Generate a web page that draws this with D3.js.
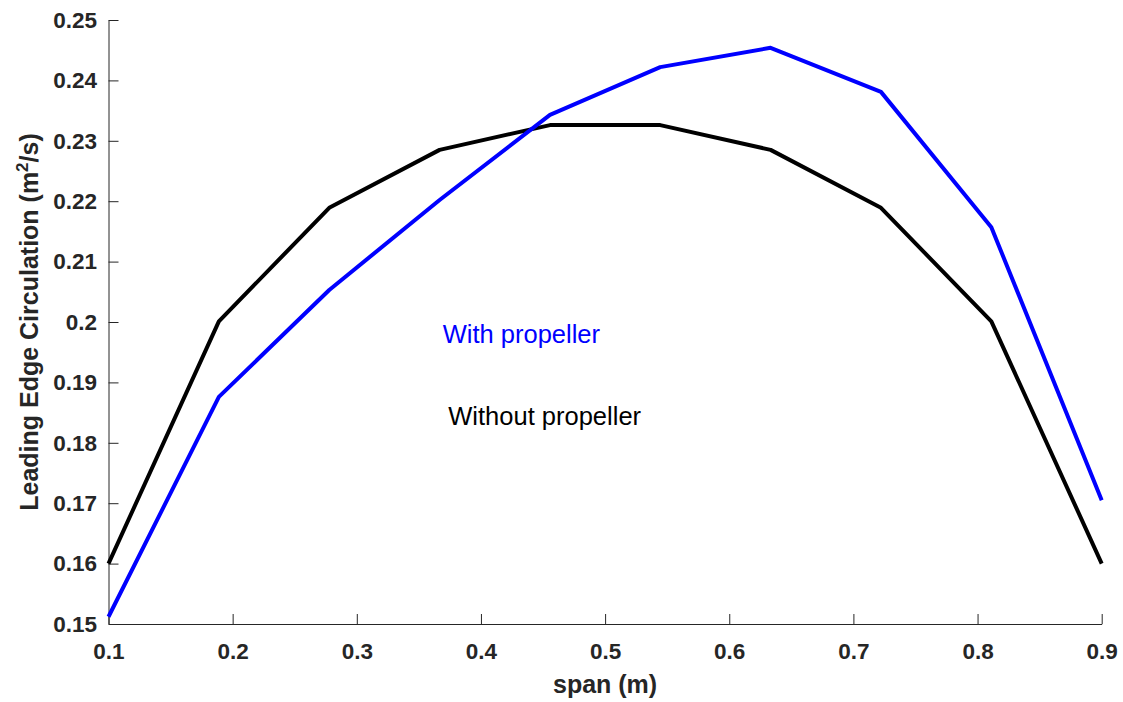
<!DOCTYPE html>
<html>
<head>
<meta charset="utf-8">
<script src="https://cdn.jsdelivr.net/npm/d3@7.9.0/dist/d3.min.js"></script>
<style>
  body { margin: 0; background: #fff; }
  svg { font-family: "Liberation Sans", Arial, sans-serif; }
</style>
</head>
<body>
<div id="vis"></div>
<script>
// span stations (m)
const span = [0.1, 0.1889, 0.2778, 0.3667, 0.4556, 0.5444, 0.6333, 0.7222, 0.8111, 0.9];
// leading edge circulation (m^2/s)
const withProp    = [0.1512, 0.1876, 0.2053, 0.2202, 0.2343, 0.2422, 0.2454, 0.2381, 0.2157, 0.1705];
const withoutProp = [0.1600, 0.2001, 0.2189, 0.2285, 0.2326, 0.2326, 0.2285, 0.2189, 0.2001, 0.1600];
const xTicks = [0.1, 0.2, 0.3, 0.4, 0.5, 0.6, 0.7, 0.8, 0.9];
const yTicks = [0.15, 0.16, 0.17, 0.18, 0.19, 0.2, 0.21, 0.22, 0.23, 0.24, 0.25];

const W = 1123, H = 702;
const m = {left: 108.5, right: W - 1101.7, top: 20, bottom: H - 624};

const svg = d3.select('#vis').append('svg')
    .attr('width', W).attr('height', H);

const x = d3.scaleLinear().domain([0.1, 0.9]).range([m.left, W - m.right]);
const y = d3.scaleLinear().domain([0.15, 0.25]).range([H - m.bottom, m.top]);

const axisColor = '#262626';
const font = '"Liberation Sans", Arial, sans-serif';

// x axis, ticks inward
const gx = svg.append('g')
    .attr('transform', `translate(0,${H - m.bottom})`)
    .call(d3.axisBottom(x).tickValues(xTicks).tickSizeInner(-10).tickSizeOuter(0)
      .tickPadding(19).tickFormat(d3.format('')));
gx.select('.domain').attr('stroke', axisColor).attr('stroke-width', 1);
gx.selectAll('.tick line').attr('stroke', axisColor);
gx.selectAll('.tick text')
    .attr('fill', axisColor).attr('font-size', 22.5).attr('font-weight', 'bold')
    .attr('font-family', font);

// y axis, ticks inward
const gy = svg.append('g')
    .attr('transform', `translate(${m.left},0)`)
    .call(d3.axisLeft(y).tickValues(yTicks).tickSizeInner(-10).tickSizeOuter(0)
      .tickPadding(11.5).tickFormat(d3.format('')));
gy.select('.domain').attr('stroke', axisColor).attr('stroke-width', 1);
gy.selectAll('.tick line').attr('stroke', axisColor);
gy.selectAll('.tick text')
    .attr('fill', axisColor).attr('font-size', 22.5).attr('font-weight', 'bold')
    .attr('font-family', font);

// lines
const line = d3.line().x((d, i) => x(span[i])).y(d => y(d));
svg.append('path').datum(withoutProp)
    .attr('fill', 'none').attr('stroke', '#000').attr('stroke-width', 4)
    .attr('stroke-linejoin', 'round').attr('d', line);
svg.append('path').datum(withProp)
    .attr('fill', 'none').attr('stroke', '#0000ff').attr('stroke-width', 4)
    .attr('stroke-linejoin', 'round').attr('d', line);

// annotations
svg.append('text').attr('x', x(0.3692)).attr('y', y(0.1965))
    .attr('font-size', 25.5).attr('fill', '#0000ff').text('With propeller');
svg.append('text').attr('x', x(0.3737)).attr('y', y(0.1829))
    .attr('font-size', 25.5).attr('fill', '#000').text('Without propeller');

// axis labels
svg.append('text')
    .attr('x', (m.left + W - m.right) / 2).attr('y', 693)
    .attr('text-anchor', 'middle').attr('font-size', 25).attr('font-weight', 'bold')
    .attr('fill', axisColor).text('span (m)');

const yl = svg.append('text')
    .attr('transform', `translate(38,${(m.top + H - m.bottom) / 2}) rotate(-90)`)
    .attr('text-anchor', 'middle').attr('font-size', 25).attr('font-weight', 'bold')
    .attr('fill', axisColor);
yl.append('tspan').text('Leading Edge Circulation (m');
yl.append('tspan').attr('font-size', 17).attr('dy', -10).text('2');
yl.append('tspan').attr('dy', 10).text('/s)');
</script>
</body>
</html>
